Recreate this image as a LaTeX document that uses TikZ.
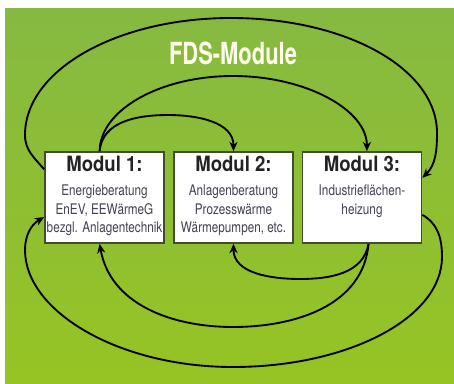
\documentclass[tikz,border=0pt]{standalone}
\usepackage{fontspec}
\usepackage{tikz}
\usetikzlibrary{positioning, arrows.meta}
\newfontfamily\titlefont[FakeStretch=0.72]{TeX Gyre Heros}
\newfontfamily\modfont[FakeStretch=0.88]{TeX Gyre Heros}
\newfontfamily\bodyfont[FakeStretch=0.8]{TeX Gyre Heros}
\definecolor{bgtop}{RGB}{134,185,66}
\definecolor{bgbot}{RGB}{150,196,36}
\definecolor{boxline}{RGB}{66,76,46}
\definecolor{headtext}{RGB}{35,35,35}
\definecolor{bodytext}{RGB}{66,66,80}
\tikzset{
  modbox/.style={draw=boxline, line width=1.5pt, fill=white, minimum width=3.57cm, minimum height=2.73cm},
  modhead/.style={font=\modfont\bfseries\fontsize{18}{20}\selectfont, text=headtext, anchor=north, inner sep=4pt},
  modtext/.style={font=\bodyfont\fontsize{12.5}{15.9}\selectfont, text=bodytext, align=center, inner sep=1pt},
  titletxt/.style={font=\titlefont\bfseries\fontsize{26}{28}\selectfont, text=white!92!yellow},
  flow/.style={line width=1.6pt, -{Stealth[length=8pt,width=7pt]}}
}
\begin{document}
\begin{tikzpicture}[x=0.03cm, y=0.03cm]
    \useasboundingbox (0,0) rectangle (454,383);
    \shade [top color=bgtop, bottom color=bgbot] (5,0) rectangle (454,374);
    % the three modules
    \node[modbox] (m1) at (104.5,185.5) {};
    \node[modbox] (m2) at (233.5,185.5) {};
    \node[modbox] (m3) at (362,185.5) {};
    \node[modhead] (h1) at (m1.north) {Modul 1:};
    \node[modhead] (h2) at (m2.north) {Modul 2:};
    \node[modhead] (h3) at (m3.north) {Modul 3:};
    \node[modtext, below=6pt of h1] (b1) {Energieberatung\\EnEV, EEWärmeG\\bezgl. Anlagentechnik};
    \node[modtext, below=6pt of h2] (b2) {Anlagenberatung\\Prozesswärme\\Wärmepumpen, etc.};
    \node[modtext, below=6pt of h3] (b3) {Industrieflächen-\\heizung};
    \node[titletxt] (title) at (233,330) {FDS-Module};
    % arcs above
    \draw[flow] (m1.155) to[out=130,in=-90] (25,248) .. controls (25,313) and (117,365) .. (231,365)
        .. controls (345,365) and (437,315) .. (437,250) to[out=-90,in=45] (m3.18);
    \draw[flow] (m1.96) .. controls (100,273) and (160,307) .. (233,307)
        .. controls (306,307) and (367,273) .. (m3.84);
    \draw[flow] (m1.96) to[out=85,in=180] (168,268) to[out=0,in=90] (m2.north);
    % arcs below
    \draw[flow] (m3.-82) to[out=-100,in=0] (300,104) to[out=180,in=-90] (m2.south);
    \draw[flow] (m3.-82) to[out=-95,in=0] (233,56) to[out=180,in=-80] (m1.-96);
    \draw[flow] (m3.-16) to[out=-30,in=90] (442,126) .. controls (442,65) and (348,16) .. (233,16)
        .. controls (118,16) and (25,72) .. (25,133) to[out=90,in=-150] (m1.198);
  \end{tikzpicture}
\end{document}
